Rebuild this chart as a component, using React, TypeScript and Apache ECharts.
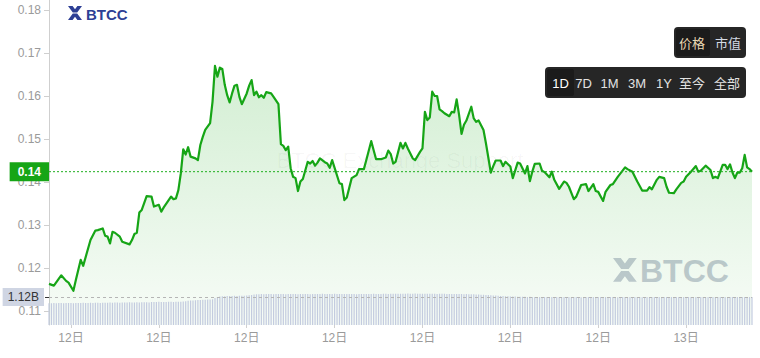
import React, { useEffect, useRef } from "react";
import * as echarts from "echarts";

// ---- data ----
const START_MINUTE = 135; // 02:15 on day 12, first 5-minute slot
const SLOT_MINUTES = 5;
const dayLabels = ["12日", "13日"];
const xTickMinutes = [180, 360, 540, 720, 900, 1080, 1260, 1440];
const yTicks = [0.11, 0.12, 0.13, 0.14, 0.15, 0.16, 0.17, 0.18];

const priceSlots = [
  0, 2, 5, 7, 8, 10, 11, 13, 14, 17, 19, 20, 22, 23, 24, 25, 26, 27, 29, 30, 33, 34, 35, 36, 37, 38, 40, 42, 43, 45,
  46, 47, 50, 51, 52, 53, 54, 55, 56, 57, 58, 60, 61, 62, 63, 64, 66, 67, 68, 69, 70, 71, 72, 73, 74, 75, 76, 77, 78, 79,
  81, 82, 83, 84, 85, 86, 87, 88, 89, 91, 92, 94, 95, 96, 97, 98, 99, 100, 101, 102, 103, 104, 106, 107, 108, 109, 110, 111, 113, 114,
  115, 116, 119, 120, 121, 122, 124, 126, 127, 129, 130, 132, 133, 134, 136, 138, 139, 140, 141, 142, 144, 145, 146, 147, 149, 150, 152, 153, 154, 155,
  156, 157, 158, 159, 160, 161, 162, 164, 165, 166, 167, 168, 169, 170, 171, 173, 174, 175, 176, 178, 179, 181, 182, 183, 185, 186, 187, 189, 190, 192,
  193, 195, 196, 197, 198, 199, 201, 202, 203, 205, 206, 207, 209, 211, 212, 213, 215, 216, 218, 220, 221, 223, 224, 225, 227, 228, 230, 231, 233, 236,
  237, 239, 241, 243, 245, 246, 247, 249, 250, 252, 253, 254, 256, 257, 259, 260, 261, 263, 265, 266, 267, 269, 271, 272, 273, 274, 276, 277, 278, 279,
  280, 281, 282, 283, 284, 285, 286, 287, 288,
];
const priceValues = [
  0.1163, 0.1159, 0.1183, 0.117, 0.1166, 0.1147, 0.1172, 0.1219, 0.1205, 0.1265, 0.1287, 0.1288, 0.1292, 0.1275, 0.1273, 0.1257, 0.1284, 0.1282, 0.1273, 0.1261,
  0.1255, 0.1265, 0.1279, 0.1282, 0.1329, 0.1335, 0.1367, 0.1366, 0.1343, 0.1347, 0.1331, 0.1341, 0.1366, 0.136, 0.1362, 0.1381, 0.142, 0.1476, 0.1464, 0.1481,
  0.1459, 0.1455, 0.1451, 0.1486, 0.1505, 0.1521, 0.1537, 0.1587, 0.167, 0.1645, 0.1666, 0.1663, 0.1626, 0.1602, 0.1585, 0.1606, 0.1624, 0.1626, 0.1598, 0.1581,
  0.1606, 0.1624, 0.1637, 0.1602, 0.161, 0.1597, 0.1602, 0.1596, 0.1609, 0.1606, 0.1598, 0.1581, 0.1488, 0.1484, 0.1474, 0.1482, 0.1432, 0.1412, 0.1409, 0.1379,
  0.1401, 0.1407, 0.1447, 0.1443, 0.1449, 0.1438, 0.1445, 0.1455, 0.1446, 0.1443, 0.1433, 0.1451, 0.1397, 0.1395, 0.1358, 0.1364, 0.1409, 0.1416, 0.143, 0.143,
  0.1451, 0.1495, 0.1474, 0.1453, 0.1453, 0.1457, 0.1473, 0.1465, 0.1443, 0.1447, 0.1491, 0.1478, 0.1491, 0.1478, 0.1455, 0.1451, 0.147, 0.1478, 0.1563, 0.1544,
  0.155, 0.161, 0.16, 0.16, 0.1569, 0.1565, 0.156, 0.1553, 0.1563, 0.1562, 0.1592, 0.1556, 0.1512, 0.1533, 0.1543, 0.1575, 0.1548, 0.154, 0.1543, 0.1521,
  0.149, 0.1422, 0.1437, 0.145, 0.145, 0.1437, 0.1447, 0.1436, 0.1409, 0.1445, 0.1443, 0.142, 0.1437, 0.1402, 0.1424, 0.1442, 0.1443, 0.1426, 0.1423, 0.1411,
  0.1424, 0.1405, 0.1384, 0.1401, 0.1398, 0.1389, 0.136, 0.1366, 0.1393, 0.1395, 0.1379, 0.1395, 0.1379, 0.1377, 0.1356, 0.1377, 0.1393, 0.1395, 0.1412, 0.1434,
  0.143, 0.1424, 0.1401, 0.138, 0.138, 0.1388, 0.1383, 0.1405, 0.1412, 0.1409, 0.1389, 0.1375, 0.1374, 0.1383, 0.1398, 0.1401, 0.1412, 0.1424, 0.1437, 0.1424,
  0.1426, 0.1438, 0.1428, 0.1409, 0.1412, 0.1409, 0.144, 0.144, 0.143, 0.1441, 0.1422, 0.1409, 0.1422, 0.1422, 0.1432, 0.1463, 0.1434, 0.143, 0.1424,
];

// rolling volume, billions, one value per 5-minute slot
const volumeValues = [
  0.87, 0.87, 0.88, 0.87, 0.88, 0.88, 0.87, 0.88, 0.88, 0.88, 0.87, 0.88,
  0.88, 0.88, 0.89, 0.88, 0.88, 0.89, 0.88, 0.89, 0.89, 0.88, 0.89, 0.89,
  0.89, 0.9, 0.89, 0.9, 0.9, 0.89, 0.9, 0.9, 0.9, 0.91, 0.9, 0.9,
  0.91, 0.9, 0.91, 0.91, 0.91, 0.9, 0.92, 0.92, 0.92, 0.93, 0.92, 0.92,
  0.92, 0.93, 0.93, 0.92, 0.93, 0.93, 0.93, 0.94, 0.95, 0.97, 0.98, 0.98,
  0.99, 1.0, 1.0, 1.01, 1.01, 1.02, 1.02, 1.03, 1.08, 1.12, 1.14, 1.15,
  1.15, 1.16, 1.16, 1.16, 1.17, 1.16, 1.17, 1.17, 1.17, 1.18, 1.19, 1.2,
  1.22, 1.23, 1.23, 1.24, 1.23, 1.24, 1.24, 1.24, 1.23, 1.24, 1.24, 1.24,
  1.24, 1.23, 1.24, 1.24, 1.24, 1.24, 1.23, 1.24, 1.24, 1.24, 1.24, 1.23,
  1.24, 1.24, 1.24, 1.24, 1.25, 1.24, 1.24, 1.24, 1.24, 1.25, 1.24, 1.24,
  1.24, 1.24, 1.24, 1.24, 1.24, 1.24, 1.23, 1.24, 1.24, 1.24, 1.24, 1.24,
  1.24, 1.25, 1.24, 1.24, 1.24, 1.25, 1.25, 1.24, 1.25, 1.25, 1.25, 1.25,
  1.25, 1.25, 1.25, 1.26, 1.25, 1.25, 1.26, 1.25, 1.25, 1.25, 1.25, 1.25,
  1.25, 1.25, 1.25, 1.24, 1.25, 1.25, 1.25, 1.24, 1.24, 1.24, 1.24, 1.24,
  1.24, 1.24, 1.23, 1.24, 1.23, 1.23, 1.23, 1.22, 1.22, 1.21, 1.21, 1.2,
  1.2, 1.19, 1.18, 1.18, 1.17, 1.16, 1.16, 1.15, 1.15, 1.14, 1.14, 1.14,
  1.13, 1.13, 1.13, 1.13, 1.12, 1.13, 1.12, 1.12, 1.12, 1.12, 1.12, 1.12,
  1.12, 1.12, 1.12, 1.12, 1.12, 1.11, 1.12, 1.12, 1.12, 1.12, 1.11, 1.12,
  1.12, 1.12, 1.11, 1.12, 1.12, 1.12, 1.12, 1.12, 1.11, 1.12, 1.12, 1.12,
  1.12, 1.12, 1.12, 1.12, 1.12, 1.11, 1.12, 1.12, 1.12, 1.12, 1.12, 1.12,
  1.12, 1.12, 1.12, 1.11, 1.12, 1.12, 1.12, 1.12, 1.12, 1.12, 1.12, 1.12,
  1.12, 1.12, 1.11, 1.12, 1.12, 1.12, 1.12, 1.12, 1.12, 1.12, 1.12, 1.12,
  1.12, 1.12, 1.12, 1.12, 1.12, 1.12, 1.12, 1.11, 1.12, 1.12, 1.12, 1.12,
  1.12, 1.12, 1.12, 1.12, 1.12, 1.12, 1.12, 1.12, 1.12, 1.12, 1.12, 1.12, 1.12,
];

const seriesTabs = ["价格", "市值"];
const rangeTabs = ["1D", "7D", "1M", "3M", "1Y", "至今", "全部"];

// ---- styling ----
const FONT = '"Liberation Sans", Arial, "Noto Sans CJK SC", sans-serif';
const GREEN = "#16a516";
const LOGO_D =
  "M0 0 L4.6 0 L7 3.2 L9.4 0 L14 0 L9.2 6.4 L4.8 6.4 Z M0 14 L4.6 14 L7 10.8 L9.4 14 L14 14 L9.2 7.6 L4.8 7.6 Z";

let logoRegistered = false;
function ensureLogo() {
  if (logoRegistered) return;
  echarts.graphic.registerShape("btccLogo", echarts.graphic.extendPath(LOGO_D, {}));
  logoRegistered = true;
}

function txt(text: string, x: number, y: number, fill: string, fontSize: number, fontWeight = "normal", align = "center") {
  return {
    type: "text",
    x,
    y,
    silent: true,
    style: {
      text,
      fill,
      fontSize,
      fontWeight,
      fontFamily: FONT,
      align,
      verticalAlign: "middle",
      textAlign: align,
      textVerticalAlign: "middle",
    },
  };
}

export default function App() {
  const ref = useRef<HTMLDivElement>(null);

  useEffect(() => {
    if (!ref.current) return;
    ensureLogo();
    const chart = echarts.init(ref.current, undefined, { renderer: "svg" });

    const minuteOf = (slot: number) => START_MINUTE + slot * SLOT_MINUTES;
    const priceData = priceSlots.map((s, i) => [minuteOf(s), priceValues[i]]);
    const volumeData = volumeValues.map((v, i) => [minuteOf(i), v]);
    const lastPrice = priceValues[priceValues.length - 1];
    const lastVolume = volumeValues[volumeValues.length - 1];
    const xMin = START_MINUTE;
    const xMax = START_MINUTE + 288 * SLOT_MINUTES;

    const tabX = [692, 728];
    const rangeX = [560.5, 583.5, 609.5, 637, 664, 692, 727];

    const graphic: any[] = [
      // top-left brand
      { type: "btccLogo", x: 68, y: 6, scaleX: 1, scaleY: 1, silent: true, style: { fill: "#2d3f95" } },
      txt("BTCC", 86, 14, "#2d3f95", 15, "bold", "left"),
      // centre faint watermark
      txt("BTCC Exchange Support", 400, 160, "rgba(0,0,0,0.035)", 22, "normal", "center"),
      // bottom-right watermark
      { type: "btccLogo", x: 613, y: 258, scaleX: 1.7, scaleY: 1.7, silent: true, style: { fill: "#c5cad6" } },
      txt("BTCC", 640, 271, "#c5cad6", 32, "bold", "left"),
      // series tabs
      { type: "rect", silent: true, shape: { x: 674, y: 27, width: 72, height: 31, r: 4 }, style: { fill: "#262626" } },
      { type: "rect", silent: true, shape: { x: 676, y: 29, width: 34, height: 27, r: 2 }, style: { fill: "#1b1b1b" } },
      txt(seriesTabs[0], tabX[0], 43, "#ead9b4", 13),
      txt(seriesTabs[1], tabX[1], 43, "#d5dbe5", 13),
      // range tabs
      { type: "rect", silent: true, shape: { x: 545, y: 67, width: 201, height: 31, r: 4 }, style: { fill: "#262626" } },
      { type: "rect", silent: true, shape: { x: 547, y: 69, width: 27, height: 27, r: 2 }, style: { fill: "#1b1b1b" } },
      ...rangeTabs.map((t, i) => txt(t, rangeX[i], 83, i === 0 ? "#ffffff" : "#e2e2e2", 13)),
    ];

    chart.setOption({
      animation: false,
      textStyle: { fontFamily: FONT },
      grid: [
        { left: 49, right: 8, top: 0, bottom: 33 },
        { left: 49, right: 8, top: 265, bottom: 33 },
      ],
      xAxis: [
        { type: "value", gridIndex: 0, min: xMin, max: xMax, show: false },
        {
          type: "value",
          gridIndex: 1,
          min: xMin,
          max: xMax,
          axisLine: { show: false },
          splitLine: { show: false },
          axisTick: { show: true, customValues: xTickMinutes, length: 3, lineStyle: { color: "#d0d0d0" } },
          axisLabel: {
            show: true,
            customValues: xTickMinutes,
            color: "#9a9a9a",
            fontSize: 12,
            margin: 7,
            fontFamily: FONT,
            formatter: (v: number) => (v >= 1440 ? dayLabels[1] : dayLabels[0]),
          },
        },
      ],
      yAxis: [
        {
          type: "value",
          gridIndex: 0,
          min: 0.106744,
          max: 0.182326,
          axisLine: { show: true, lineStyle: { color: "#cfcfcf" } },
          splitLine: { show: false },
          axisTick: { show: true, customValues: yTicks, length: 5, lineStyle: { color: "#cfcfcf" } },
          axisLabel: {
            show: true,
            customValues: yTicks,
            color: "#9a9a9a",
            fontSize: 12,
            margin: 8,
            fontFamily: FONT,
            formatter: (v: number) => v.toFixed(2),
          },
        },
        {
          type: "value",
          gridIndex: 1,
          min: 0,
          max: 2.4,
          axisLine: { show: false },
          splitLine: { show: false },
          axisLabel: { show: false },
          axisTick: { show: true, customValues: [lastVolume], length: 4, lineStyle: { color: "#333" } },
        },
      ],
      series: [
        {
          type: "line",
          xAxisIndex: 0,
          yAxisIndex: 0,
          data: priceData,
          showSymbol: false,
          z: 2,
          color: GREEN,
          lineStyle: { color: GREEN, width: 2.2, join: "round" },
          areaStyle: {
            color: new echarts.graphic.LinearGradient(0, 0, 0, 1, [
              { offset: 0, color: "rgba(30,170,30,0.28)" },
              { offset: 1, color: "rgba(30,170,30,0.05)" },
            ]),
          },
          markLine: {
            silent: true,
            precision: 4,
            symbol: ["none", "none"],
            z: 10,
            lineStyle: { color: "rgba(0,0,0,0)", width: 1 },
            label: {
              show: true,
              position: "start",
              distance: 0,
              formatter: () => lastPrice.toFixed(2),
              backgroundColor: GREEN,
              color: "#ffffff",
              fontWeight: "bold",
              fontSize: 12,
              fontFamily: FONT,
              lineHeight: 13,
              padding: [3, 8, 3, 8],
            },
            data: [{ yAxis: lastPrice }],
          },
        },
        {
          // dotted guide at the latest price
          type: "line",
          xAxisIndex: 0,
          yAxisIndex: 0,
          silent: true,
          showSymbol: false,
          z: 4,
          data: [
            [xMin, lastPrice],
            [xMax, lastPrice],
          ],
          lineStyle: { color: "#1fb01f", type: [2, 2], width: 1 },
        },
        {
          type: "bar",
          xAxisIndex: 1,
          yAxisIndex: 1,
          data: volumeData,
          barWidth: 1.2,
          z: 3,
          itemStyle: { color: "#c3cbdf" },
          markLine: {
            silent: true,
            precision: 4,
            symbol: ["none", "none"],
            z: 10,
            lineStyle: { color: "#b5b5b5", type: [3, 3], width: 1 },
            label: {
              show: true,
              position: "start",
              distance: 5,
              formatter: () => lastVolume.toFixed(2) + "B",
              backgroundColor: "#cfd5e3",
              color: "#333333",
              fontSize: 12,
              fontFamily: FONT,
              lineHeight: 13,
              padding: [3, 5, 2, 5],
            },
            data: [{ yAxis: lastVolume }],
          },
        },
      ],
      graphic,
    });

    return () => chart.dispose();
  }, []);

  return (
    <div
      ref={ref}
      style={{ position: "fixed", left: 0, top: 0, width: 760, height: 358, background: "#ffffff" }}
    />
  );
}
